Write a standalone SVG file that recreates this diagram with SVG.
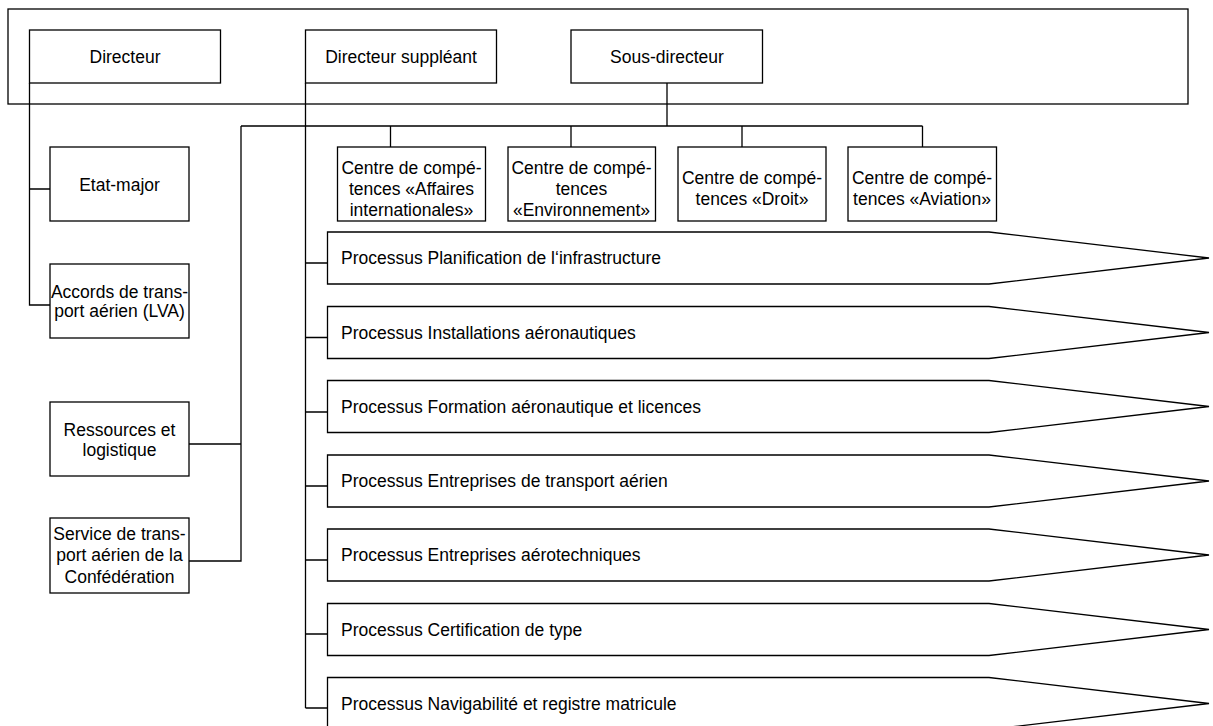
<svg xmlns="http://www.w3.org/2000/svg" width="1213" height="726" viewBox="0 0 1213 726">
<style>
.b{fill:#fff;stroke:#000;stroke-width:1.3}
.c{fill:none;stroke:#000;stroke-width:1.3}
text{font-family:"Liberation Sans",Arial,sans-serif;font-size:17.5px;fill:#000}
.m{text-anchor:middle}
</style>
<rect width="1213" height="726" fill="#fff"/>
<g id="frame"><rect class="b" x="8" y="9" width="1180" height="95"/></g>
<g id="connectors">
<path class="c" d="M29.5,83 V305 H50 M29.5,189 H50"/>
<path class="c" d="M305.5,83 V708"/>
<path class="c" d="M305.5,263 H328 M305.5,337.5 H328 M305.5,412 H328 M305.5,486 H328 M305.5,560 H328 M305.5,634 H328 M305.5,708 H328"/>
<path class="c" d="M667,83 V126 M241,126 H922.5 M241,126 V561 H189 M241,444 H189"/>
<path class="c" d="M390.5,126 V147 M571,126 V147 M742,126 V147 M922.5,126 V147"/>
</g>
<g id="directeur"><rect class="b" x="29.5" y="30" width="191" height="53"/><text class="m" x="125" y="63">Directeur</text></g>
<g id="directeur-suppleant"><rect class="b" x="305.5" y="30" width="191" height="53"/><text class="m" x="401" y="63">Directeur suppléant</text></g>
<g id="sous-directeur"><rect class="b" x="571" y="30" width="191.5" height="53"/><text class="m" x="667" y="63">Sous-directeur</text></g>
<g id="etat-major"><rect class="b" x="50" y="147" width="139" height="74"/><text class="m" x="119.5" y="191">Etat-major</text></g>
<g id="accords"><rect class="b" x="50" y="264" width="139" height="74"/><text class="m" x="119.5" y="298">Accords de trans-</text><text class="m" x="119.5" y="317">port aérien (LVA)</text></g>
<g id="ressources"><rect class="b" x="50" y="402" width="139" height="74"/><text class="m" x="119.5" y="436">Ressources et</text><text class="m" x="119.5" y="456">logistique</text></g>
<g id="service"><rect class="b" x="50" y="518" width="139" height="75"/><text class="m" x="119.5" y="540">Service de trans-</text><text class="m" x="119.5" y="561">port aérien de la</text><text class="m" x="119.5" y="583">Confédération</text></g>
<g id="cc-affaires"><rect class="b" x="337.5" y="147" width="148" height="74"/><text class="m" x="411.5" y="174">Centre de compé-</text><text class="m" x="411.5" y="195">tences «Affaires</text><text class="m" x="411.5" y="216">internationales»</text></g>
<g id="cc-environnement"><rect class="b" x="508" y="147" width="147.5" height="74"/><text class="m" x="581.5" y="174">Centre de compé-</text><text class="m" x="581.5" y="195">tences</text><text class="m" x="581.5" y="216">«Environnement»</text></g>
<g id="cc-droit"><rect class="b" x="678" y="147" width="148" height="74"/><text class="m" x="752" y="184">Centre de compé-</text><text class="m" x="752" y="205">tences «Droit»</text></g>
<g id="cc-aviation"><rect class="b" x="848" y="147" width="148.5" height="74"/><text class="m" x="922" y="184">Centre de compé-</text><text class="m" x="922" y="205">tences «Aviation»</text></g>
<g id="p1"><path class="b" d="M327.5,232 H989 L1209,258 L989,284 H327.5 Z"/><text x="341" y="264">Processus Planification de l‘infrastructure</text></g>
<g id="p2"><path class="b" d="M327.5,306.5 H989 L1209,332.5 L989,358.5 H327.5 Z"/><text x="341" y="338.5">Processus Installations aéronautiques</text></g>
<g id="p3"><path class="b" d="M327.5,380.5 H989 L1209,406.5 L989,432.5 H327.5 Z"/><text x="341" y="412.5">Processus Formation aéronautique et licences</text></g>
<g id="p4"><path class="b" d="M327.5,455 H989 L1209,481 L989,507 H327.5 Z"/><text x="341" y="487">Processus Entreprises de transport aérien</text></g>
<g id="p5"><path class="b" d="M327.5,529 H989 L1209,555 L989,581 H327.5 Z"/><text x="341" y="561">Processus Entreprises aérotechniques</text></g>
<g id="p6"><path class="b" d="M327.5,603.5 H989 L1209,629.5 L989,655.5 H327.5 Z"/><text x="341" y="635.5">Processus Certification de type</text></g>
<g id="p7"><path class="b" d="M327.5,677.5 H989 L1209,703.5 L989,729.5 H327.5 Z"/><text x="341" y="709.5">Processus Navigabilité et registre matricule</text></g>
</svg>
